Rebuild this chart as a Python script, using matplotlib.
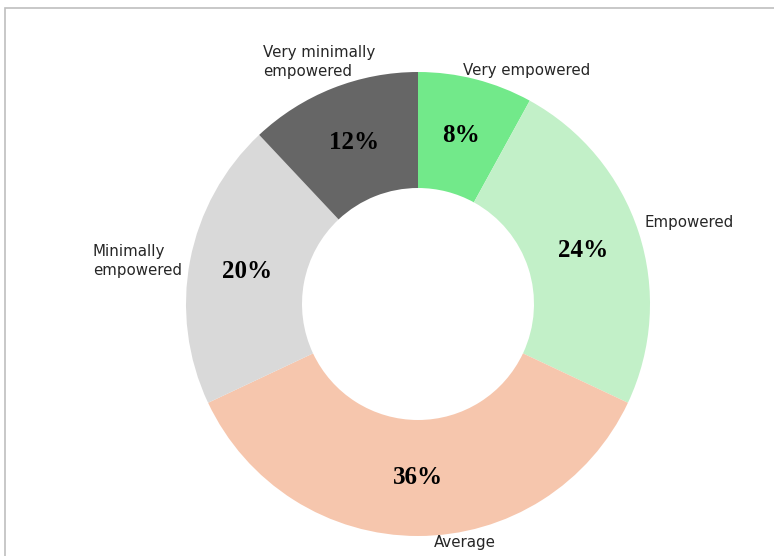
import matplotlib.pyplot as plt
from matplotlib.patches import Rectangle

labels = ["Very empowered", "Empowered", "Average", "Minimally\nempowered", "Very minimally\nempowered"]
shares = [8, 24, 36, 20, 12]
colors = ["#72E98A", "#C2F0C8", "#F6C6AD", "#D9D9D9", "#666666"]

# label anchors in pixel space (x, y from top) and horizontal alignment
label_pos = [(527, 70, "center"), (645, 222, "left"), (465, 543, "center"),
             (93, 261, "left"), (263, 62, "left")]

W, H = 774, 556


def main():
    fig = plt.figure(figsize=(W / 100, H / 100), dpi=100)
    ax = fig.add_axes([0, 0, 1, 1])

    cx, cy, r = 418, H - 304, 232
    wedges, _, autotexts = ax.pie(
        shares, colors=colors, startangle=90, counterclock=False,
        center=(cx, cy), radius=r, frame=True,
        wedgeprops=dict(width=r * 0.5, linewidth=0),
        autopct=lambda p: f"{p:.0f}%", pctdistance=0.75,
    )
    ax.set_xlim(0, W)
    ax.set_ylim(0, H)
    ax.axis("off")
    for t in autotexts:
        t.set_fontfamily("Liberation Serif")
        t.set_fontweight("bold")
        t.set_fontsize(18)
        t.set_color("black")

    for text, (x, y, ha) in zip(labels, label_pos):
        ax.text(x, H - y, text, ha=ha, va="center", fontsize=10.8,
                family=["Liberation Sans Narrow", "DejaVu Sans"],
                color="#262626", linespacing=1.3)

    # outer frame, cut off on the right and bottom
    fig.patches.append(Rectangle((5, -10), W + 20, H - 8 + 10, transform=None,
                                 fill=False, edgecolor="#BFBFBF", linewidth=1.2))

    fig.savefig("out.png", dpi=100)


if __name__ == "__main__":
    main()
